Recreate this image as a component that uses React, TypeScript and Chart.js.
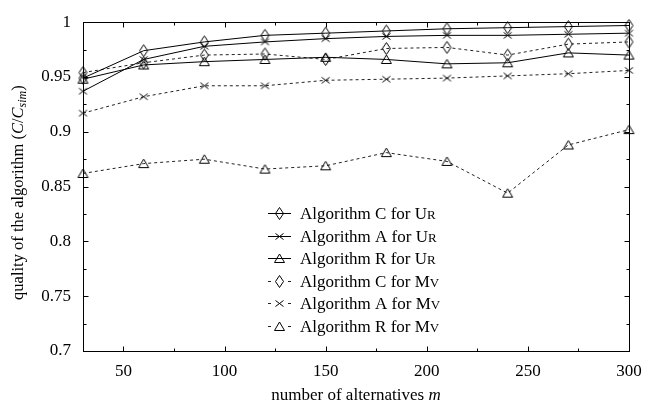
import React, { useEffect, useRef } from 'react';
import { Chart, registerables } from 'chart.js';

Chart.register(...registerables);

const xValues = [30, 60, 90, 120, 150, 180, 210, 240, 270, 300];
const cUr = [0.949, 0.974, 0.982, 0.988, 0.990, 0.992, 0.994, 0.995, 0.996, 0.997];
const aUr = [0.937, 0.966, 0.978, 0.982, 0.985, 0.987, 0.988, 0.988, 0.989, 0.990];
const rUr = [0.948, 0.961, 0.964, 0.966, 0.968, 0.966, 0.962, 0.963, 0.972, 0.970];
const cMv = [0.954, 0.963, 0.970, 0.971, 0.966, 0.976, 0.977, 0.970, 0.980, 0.982];
const aMv = [0.917, 0.932, 0.942, 0.942, 0.947, 0.948, 0.949, 0.951, 0.953, 0.956];
const rMv = [0.862, 0.871, 0.875, 0.866, 0.869, 0.881, 0.873, 0.844, 0.888, 0.902];

const xTickValues = [50, 100, 150, 200, 250, 300];
const xTickLabels = ['50', '100', '150', '200', '250', '300'];
const xMinorTicks = [75, 125, 175, 225, 275];
const yTickValues = [0.7, 0.75, 0.8, 0.85, 0.9, 0.95, 1];
const yTickLabels = ['0.7', '0.75', '0.8', '0.85', '0.9', '0.95', '1'];
const yMinorTicks = [0.725, 0.775, 0.825, 0.875, 0.925, 0.975];

const seriesNames = ['Algorithm C for U', 'Algorithm A for U', 'Algorithm R for U', 'Algorithm C for M', 'Algorithm A for M', 'Algorithm R for M'];
const seriesSmallCaps = ['R', 'R', 'R', 'V', 'V', 'V'];

const FONT = '"Liberation Serif", "DejaVu Serif", serif';
const FS = 17;

function makeDiamond() {
  const c = document.createElement('canvas');
  c.width = 11; c.height = 15;
  const g = c.getContext('2d')!;
  g.strokeStyle = '#000'; g.lineWidth = 1;
  g.beginPath();
  g.moveTo(5.5, 1.5); g.lineTo(9.5, 7.5); g.lineTo(5.5, 13.5); g.lineTo(1.5, 7.5); g.closePath();
  g.stroke();
  return c;
}
function makeTriangle() {
  const c = document.createElement('canvas');
  c.width = 13; c.height = 11;
  const g = c.getContext('2d')!;
  g.strokeStyle = '#000'; g.lineWidth = 1;
  g.beginPath();
  g.moveTo(6.5, 1); g.lineTo(11.5, 9.5); g.lineTo(1.5, 9.5); g.closePath();
  g.stroke();
  return c;
}
function makeCross() {
  const c = document.createElement('canvas');
  c.width = 11; c.height = 9;
  const g = c.getContext('2d')!;
  g.strokeStyle = '#000'; g.lineWidth = 1;
  g.beginPath();
  g.moveTo(1.5, 1.5); g.lineTo(9.5, 7.5);
  g.moveTo(9.5, 1.5); g.lineTo(1.5, 7.5);
  g.stroke();
  return c;
}

export default function App() {
  const ref = useRef<HTMLCanvasElement | null>(null);
  useEffect(() => {
    const canvas = ref.current!;
    const diamond = makeDiamond();
    const triangle = makeTriangle();
    const cross = makeCross();
    const markers = [diamond, cross, triangle, diamond, cross, triangle];
    const allData = [cUr, aUr, rUr, cMv, aMv, rMv];
    const dashed = [false, false, false, true, true, true];

    const datasets = allData.map((arr, i) => ({
      label: seriesNames[i] + seriesSmallCaps[i],
      data: arr.map((v, k) => ({ x: xValues[k], y: v })),
      borderColor: dashed[i] ? '#222' : '#000',
      borderWidth: 1,
      borderDash: dashed[i] ? [3, 3] : [],
      pointStyle: markers[i],
      pointRadius: 5,
      fill: false,
      tension: 0,
      clip: false as any,
    }));

    const decorPlugin = {
      id: 'decor',
      afterDraw(chart: any) {
        const ctx = chart.ctx as CanvasRenderingContext2D;
        const { left, right, top, bottom } = chart.chartArea;
        const xs = chart.scales.x, ys = chart.scales.y;
        ctx.save();
        ctx.strokeStyle = '#000';
        ctx.lineWidth = 1;
        ctx.setLineDash([]);
        const L = Math.round(left) + 0.5, R = Math.round(right) + 0.5;
        const T = Math.round(top) + 0.5, B = Math.round(bottom) + 0.5;
        ctx.strokeRect(L, T, R - L, B - T);
        ctx.beginPath();
        const xt = (v: number, len: number) => {
          const p = Math.round(xs.getPixelForValue(v)) + 0.5;
          ctx.moveTo(p, B); ctx.lineTo(p, B - len);
          ctx.moveTo(p, T); ctx.lineTo(p, T + len);
        };
        const yt = (v: number, len: number) => {
          const p = Math.round(ys.getPixelForValue(v)) + 0.5;
          ctx.moveTo(L, p); ctx.lineTo(L + len, p);
          ctx.moveTo(R, p); ctx.lineTo(R - len, p);
        };
        xTickValues.forEach(v => xt(v, 5));
        xMinorTicks.forEach(v => xt(v, 3));
        yTickValues.forEach(v => yt(v, 5));
        yMinorTicks.forEach(v => yt(v, 3));
        ctx.stroke();

        // x title
        ctx.fillStyle = '#000';
        ctx.textBaseline = 'alphabetic';
        ctx.textAlign = 'left';
        const base = FS + 'px ' + FONT;
        const ital = 'italic ' + FS + 'px ' + FONT;
        ctx.font = base;
        const xt1 = 'number of alternatives ';
        const w1 = ctx.measureText(xt1).width;
        ctx.font = ital;
        const w2 = ctx.measureText('m').width;
        const cx = (left + right) / 2;
        const sx = cx - (w1 + w2) / 2;
        ctx.font = base;
        ctx.fillText(xt1, sx, 400);
        ctx.font = ital;
        ctx.fillText('m', sx + w1, 400);

        // y title
        const yb = '16.5px ' + FONT;
        const yi = 'italic 16.5px ' + FONT;
        const parts: [string, string, number][] = [
          ['quality of the algorithm (', yb, 0],
          ['C', yi, 0],
          ['/', yb, 0],
          ['C', yi, 0],
          ['sim', 'italic 12px ' + FONT, 3],
          [')', yb, 0],
        ];
        let total = 0;
        parts.forEach(p => { ctx.font = p[1]; total += ctx.measureText(p[0]).width; });
        ctx.translate(23, (top + bottom) / 2 + 6);
        ctx.rotate(-Math.PI / 2);
        let px = -total / 2;
        parts.forEach(p => {
          ctx.font = p[1];
          ctx.fillText(p[0], px, p[2]);
          px += ctx.measureText(p[0]).width;
        });
        ctx.setTransform(1, 0, 0, 1, 0, 0);

        // legend
        const lx0 = 268, lx1 = 291, tx = 300, ly0 = 213, dy = 22.6;
        for (let i = 0; i < 6; i++) {
          const y = Math.round(ly0 + i * dy);
          const yy = y + 0.5;
          ctx.beginPath();
          if (dashed[i]) {
            ctx.moveTo(lx0, yy); ctx.lineTo(lx0 + 3, yy);
            ctx.moveTo(lx1 - 3, yy); ctx.lineTo(lx1, yy);
          } else {
            ctx.moveTo(lx0, yy); ctx.lineTo(lx1, yy);
          }
          ctx.strokeStyle = dashed[i] ? '#222' : '#000';
          ctx.stroke();
          const m = markers[i];
          ctx.drawImage(m, Math.round((lx0 + lx1) / 2 - m.width / 2), Math.round(yy - m.height / 2));
          ctx.font = base;
          ctx.textBaseline = 'alphabetic';
          ctx.fillStyle = '#000';
          ctx.fillText(seriesNames[i], tx, y + 6);
          const wn = ctx.measureText(seriesNames[i]).width;
          ctx.font = '13px ' + FONT;
          ctx.fillText(seriesSmallCaps[i], tx + wn, y + 6);
        }
        ctx.restore();
      },
    };

    const chart = new Chart(canvas, {
      type: 'line',
      data: { datasets: datasets as any },
      options: {
        responsive: false,
        animation: false,
        devicePixelRatio: 1,
        layout: { padding: { top: 15, right: 23, left: 0, bottom: 0 } },
        plugins: { legend: { display: false }, tooltip: { enabled: false } },
        scales: {
          x: {
            type: 'linear',
            min: 30,
            max: 300,
            grid: { display: false, drawTicks: false },
            border: { display: false },
            afterBuildTicks: (s: any) => { s.ticks = xTickValues.map(v => ({ value: v })); },
            afterFit: (s: any) => { s.height = 56; },
            ticks: {
              autoSkip: false,
              maxRotation: 0,
              padding: 10,
              color: '#000',
              font: { family: FONT, size: FS },
              callback: (_v: any, i: number) => xTickLabels[i],
            },
          },
          y: {
            type: 'linear',
            min: 0.7,
            max: 1,
            grid: { display: false, drawTicks: false },
            border: { display: false },
            afterBuildTicks: (s: any) => { s.ticks = yTickValues.map(v => ({ value: v })); },
            afterFit: (s: any) => { s.width = 83; },
            ticks: {
              autoSkip: false,
              padding: 12,
              color: '#000',
              font: { family: FONT, size: FS },
              callback: (_v: any, i: number) => yTickLabels[i],
            },
          },
        },
      },
      plugins: [decorPlugin],
    });
    return () => chart.destroy();
  }, []);

  return (
    <div style={{ position: 'fixed', left: 0, top: 0, width: 652, height: 407, background: '#fff' }}>
      <canvas ref={ref} width={652} height={407} />
    </div>
  );
}
